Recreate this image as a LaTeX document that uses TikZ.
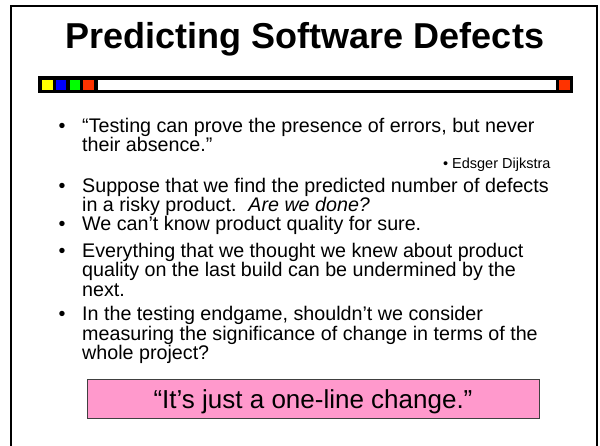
\documentclass[tikz,border=0pt]{standalone}
\usepackage{fontspec}
\setmainfont{Liberation Sans}
\definecolor{slidepink}{HTML}{FF99CC}
\definecolor{barred}{HTML}{FF3300}
\definecolor{baryellow}{HTML}{FFFF00}
\definecolor{barblue}{HTML}{0000FF}
\definecolor{bargreen}{HTML}{00FF00}
\definecolor{boxedge}{HTML}{404040}
\begin{document}
\begin{tikzpicture}[x=1pt,y=-1pt,
  body/.style={anchor=base west,inner sep=0pt,font=\fontsize{19.7}{22}\selectfont},
  dot/.style={anchor=base west,inner sep=0pt,font=\fontsize{19.7}{22}\selectfont},
  small/.style={anchor=base west,inner sep=0pt,font=\fontsize{14.5}{16}\selectfont}]
\useasboundingbox (0,0) rectangle (600,445);

% slide frame (runs off the bottom edge)
\draw[line width=2pt] (11,6) rectangle (597,460);

% title
\node[anchor=base,inner sep=0pt,font=\fontsize{36}{40}\selectfont\bfseries] (title) at (305,48) {Predicting Software Defects};

% decorative bar under the title
\fill[black] (38,76) rectangle (573,93);
\fill[baryellow] (42,80) rectangle (52.5,90);
\fill[barblue] (55.75,80) rectangle (66.25,90);
\fill[bargreen] (69.5,80) rectangle (80,90);
\fill[barred] (83.25,80) rectangle (94,90);
\fill[white] (97.5,80) rectangle (556,90);
\fill[barred] (559,80) rectangle (570,90);

% bullet list
\node[dot] (b1) at (58.5,132) {•};
\node[body] (l1a) at (82,132) {“Testing can prove the presence of errors, but never};
\node[body] (l1b) at (82,151) {their absence.”};

\node[small] (b1s) at (443,168) {•};
\node[small] (l1s) at (452,168) {Edsger Dijkstra};

\node[dot] (b2) at (58.5,192) {•};
\node[body] (l2a) at (82,192) {Suppose that we find the predicted number of defects};
\node[body] (l2b) at (82,211) {in a risky product.\hspace{0.6em}\textit{Are we done?}};

\node[dot] (b3) at (58.5,230.5) {•};
\node[body] (l3a) at (82,230.5) {We can’t know product quality for sure.};

\node[dot] (b4) at (58.5,257) {•};
\node[body] (l4a) at (82,257) {Everything that we thought we knew about product};
\node[body] (l4b) at (82,276.5) {quality on the last build can be undermined by the};
\node[body] (l4c) at (82,296) {next.};

\node[dot] (b5) at (58.5,320.5) {•};
\node[body] (l5a) at (82,320.5) {In the testing endgame, shouldn’t we consider};
\node[body] (l5b) at (82,340) {measuring the significance of change in terms of the};
\node[body] (l5c) at (82,359) {whole project?};

% highlighted quotation
\node[draw=boxedge,line width=1pt,fill=slidepink,minimum width=452pt,minimum height=39pt,
      inner sep=0pt,text height=24pt,text depth=5pt,font=\fontsize{26}{30}\selectfont]
  (quote) at (313,398.5) {“It’s just a one-line change.”};
\end{tikzpicture}
\end{document}
